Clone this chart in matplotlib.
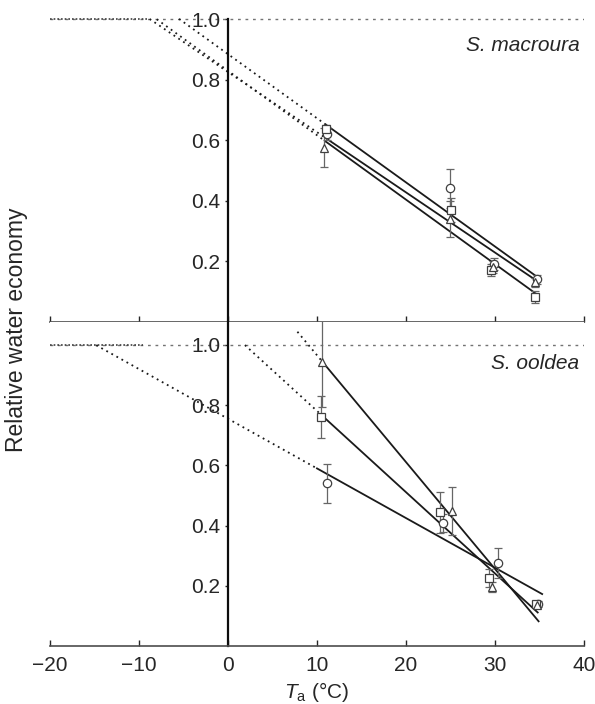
import numpy as np
import matplotlib.pyplot as plt

plt.rcParams['font.family'] = ['Liberation Sans', 'DejaVu Sans']
plt.rcParams['mathtext.fontset'] = 'custom'
plt.rcParams['mathtext.rm'] = 'Liberation Sans'
plt.rcParams['mathtext.it'] = 'Liberation Sans:italic'

markers = ['o', 's', '^']   # three groups, same order in every list below

# S. macroura (top panel)
mac_temp = [[11.1, 25.0, 29.9, 34.7],
            [11.0, 25.1, 29.6, 34.5],
            [10.8, 24.9, 29.8, 34.5]]
mac_rwe = [[0.62, 0.44, 0.19, 0.14],
           [0.635, 0.37, 0.17, 0.08],
           [0.575, 0.34, 0.18, 0.13]]
mac_err = [[0.02, 0.065, 0.02, 0.015],
           [0.015, 0.04, 0.02, 0.02],
           [0.065, 0.06, 0.02, 0.015]]
mac_icpt = [0.884, 0.829, 0.825]
mac_slope = [-0.0212, -0.0213, -0.0199]
mac_fit_from = [11.0, 11.0, 11.0]
mac_fit_to = [34.5, 34.5, 34.5]
mac_ext_from = [-5.5, -8.0, -8.8]

# S. ooldea (bottom panel)
ool_temp = [[11.1, 24.2, 30.3, 34.8],
            [10.5, 23.8, 29.3, 34.6],
            [10.6, 25.2, 29.7, 34.7]]
ool_rwe = [[0.54, 0.41, 0.277, 0.14],
           [0.762, 0.445, 0.226, 0.14],
           [0.945, 0.448, 0.196, 0.135]]
ool_err = [[0.065, 0.03, 0.05, 0.01],
           [0.07, 0.068, 0.03, 0.01],
           [0.15, 0.08, 0.015, 0.01]]
ool_icpt = [0.755, 1.051, 1.321]
ool_slope = [-0.0165, -0.0270, -0.0355]
ool_fit_from = [10.0, 10.6, 10.6]
ool_fit_to = [35.3, 34.8, 34.9]
ool_ext_from = [-14.8, 1.9, 7.8]

plateau_end = [-9.0, -9.5]
species = ['S. macroura', 'S. ooldea']

fig = plt.figure(figsize=(5.95, 7.04), dpi=100)
ax_top = fig.add_axes([0.084, 0.5433, 0.8975, 0.4567])
ax_bot = fig.add_axes([0.084, 0.0824, 0.8975, 0.4609])

panels = [
    (ax_top, mac_temp, mac_rwe, mac_err, mac_icpt, mac_slope, mac_fit_from, mac_fit_to, mac_ext_from, 1.063),
    (ax_bot, ool_temp, ool_rwe, ool_err, ool_icpt, ool_slope, ool_fit_from, ool_fit_to, ool_ext_from, 1.078),
]

for k, (ax, temp, rwe, err, icpt, slope, f0, f1, e0, ytop) in enumerate(panels):
    ax.set_xlim(-20, 40)
    ax.set_ylim(0, ytop)

    # reference line at 1.0 and the plateau
    ax.axhline(1.0, color='0.45', lw=1.0, ls=(0, (2, 3.4)), zorder=1)
    ax.plot([-20, plateau_end[k]], [1.0, 1.0], color='0.25', lw=1.2,
            ls=(0, (1, 1.2)), zorder=1)

    for i in range(3):
        a, b = icpt[i], slope[i]
        # dotted extrapolation
        xe = np.array([e0[i], f0[i]])
        ax.plot(xe, a + b * xe, color='0.1', lw=1.3, ls=(0, (1, 2.2)), zorder=2)
        # fitted regression
        xf = np.array([f0[i], f1[i]])
        ax.plot(xf, a + b * xf, color='0.1', lw=1.3, zorder=3)
        # means with error bars
        ax.errorbar(temp[i], rwe[i], yerr=err[i], fmt=markers[i], ms=6,
                    mfc='white', mec='0.25', mew=0.9, ecolor='0.4',
                    elinewidth=0.9, capsize=3, capthick=0.9, zorder=4)

    ax.text(39.5, 0.914 if k == 0 else 0.94, species[k], style='italic',
            fontsize=15, ha='right', va='center', color='0.15')

    for side in ['top', 'right']:
        ax.spines[side].set_visible(False)
    ax.spines['left'].set_position(('data', 0))
    ax.spines['left'].set_linewidth(1.6)
    ax.spines['left'].set_color('0.05')
    ax.spines['bottom'].set_linewidth(1.2)
    ax.spines['bottom'].set_color('0.3')

    ax.set_yticks([0.2, 0.4, 0.6, 0.8, 1.0])
    ax.set_yticklabels(['0.2', '0.4', '0.6', '0.8', '1.0'])
    ax.tick_params(axis='y', direction='out', length=2.5, width=1, pad=3,
                   labelsize=15, colors='0.15')
    ax.set_xticks(range(-20, 41, 10))
    ax.tick_params(axis='x', direction='in', length=4, width=1, pad=7,
                   labelsize=15, colors='0.15')

ax_top.spines['left'].set_bounds(0, 1.0)
ax_top.tick_params(axis='x', labelbottom=False)
ax_bot.set_xticklabels(['\u221220', '\u221210', '0', '10', '20', '30', '40'])
ax_bot.set_xlabel(r'$T_\mathrm{a}$ (°C)', fontsize=15, color='0.15', labelpad=4)

fig.text(17 / 595, 0.531, 'Relative water economy', rotation=90,
         fontsize=16.5, ha='center', va='center', color='0.15')

fig.savefig('out.png', dpi=100)
